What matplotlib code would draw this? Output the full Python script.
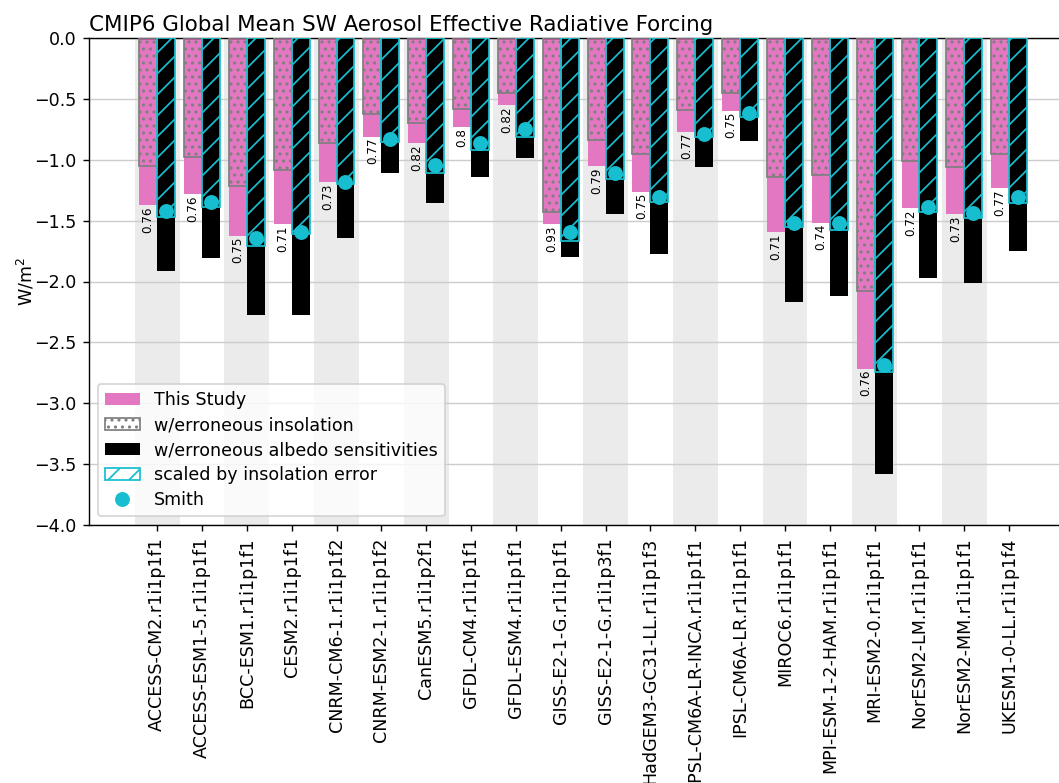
import matplotlib
matplotlib.use("Agg")
import matplotlib.pyplot as plt
import matplotlib.patches as mpatches
from matplotlib.lines import Line2D
import numpy as np

models = ["ACCESS-CM2.r1i1p1f1", "ACCESS-ESM1-5.r1i1p1f1", "BCC-ESM1.r1i1p1f1",
          "CESM2.r1i1p1f1", "CNRM-CM6-1.r1i1p1f2", "CNRM-ESM2-1.r1i1p1f2",
          "CanESM5.r1i1p2f1", "GFDL-CM4.r1i1p1f1", "GFDL-ESM4.r1i1p1f1",
          "GISS-E2-1-G.r1i1p1f1", "GISS-E2-1-G.r1i1p3f1", "HadGEM3-GC31-LL.r1i1p1f3",
          "IPSL-CM6A-LR-INCA.r1i1p1f1", "IPSL-CM6A-LR.r1i1p1f1", "MIROC6.r1i1p1f1",
          "MPI-ESM-1-2-HAM.r1i1p1f1", "MRI-ESM2-0.r1i1p1f1", "NorESM2-LM.r1i1p1f1",
          "NorESM2-MM.r1i1p1f1", "UKESM1-0-LL.r1i1p1f4"]

this_study = [-1.372, -1.281, -1.624, -1.528, -1.186, -0.810, -0.860, -0.728, -0.550, -1.531,
              -1.051, -1.262, -0.769, -0.597, -1.596, -1.517, -2.715, -1.399, -1.446, -1.235]
err_insolation = [-1.051, -0.980, -1.216, -1.087, -0.865, -0.624, -0.701, -0.586, -0.454, -1.426,
                  -0.838, -0.956, -0.591, -0.454, -1.139, -1.125, -2.081, -1.008, -1.062, -0.953]
err_albedo = [-1.911, -1.810, -2.275, -2.275, -1.646, -1.106, -1.358, -1.139, -0.988, -1.796,
              -1.449, -1.777, -1.057, -0.846, -2.171, -2.119, -3.581, -1.974, -2.015, -1.750]
scaled_insol = [-1.467, -1.385, -1.706, -1.610, -1.199, -0.857, -1.112, -0.920, -0.816, -1.667,
                -1.158, -1.344, -0.816, -0.646, -1.550, -1.577, -2.746, -1.426, -1.481, -1.353]
smith = [-1.421, -1.344, -1.640, -1.596, -1.180, -0.832, -1.043, -0.865, -0.747, -1.591,
         -1.112, -1.303, -0.789, -0.619, -1.522, -1.522, -2.686, -1.385, -1.435, -1.309]
ratios = ["0.76", "0.76", "0.75", "0.71", "0.73", "0.77", "0.82", "0.8", "0.82", "0.93",
          "0.79", "0.75", "0.77", "0.75", "0.71", "0.74", "0.76", "0.72", "0.73", "0.77"]

pink = "#e377c2"
cyan = "#17becf"

DPI = 126
W, H = 1059, 783
fig = plt.figure(figsize=(W / DPI, H / DPI), dpi=DPI)
left = 89 / W
bottom = (H - 525) / H
top = (H - 38) / H
xmin, xmax = -1.52, 20.2
unit = (1009 - 157) / 19
width_px = (xmax - xmin) * unit
ax = fig.add_axes([left, bottom, width_px / W, top - bottom])

x = np.arange(len(models))
w = 0.4
for i in x:
    if i % 2 == 0:
        ax.axvspan(i - 0.5, i + 0.5, color="#ebebeb", zorder=0, lw=0)

ax.yaxis.grid(True, color="#cccccc", lw=0.8, zorder=0.5)
ax.set_axisbelow(True)

ax.bar(x - w / 2, this_study, w, color=pink, zorder=2)
ax.bar(x - w / 2, err_insolation, w, fill=False, edgecolor="gray", hatch="...", lw=1.0, zorder=3)
ax.bar(x + w / 2, err_albedo, w, color="black", zorder=2)
ax.bar(x + w / 2, scaled_insol, w, fill=False, edgecolor=cyan, hatch="//", lw=1.0, zorder=3)
ax.plot(x + w / 2, smith, "o", color=cyan, ms=7.5, zorder=4, ls="none")

for i in x:
    ax.text(i - w / 2, this_study[i] - 0.01, ratios[i], rotation=90, ha="center", va="top",
            fontsize=6.9, zorder=5)

ax.set_xlim(xmin, xmax)
ax.set_ylim(-4.0, 0.0)
ax.set_yticks(np.arange(-4.0, 0.01, 0.5))
ax.set_xticks(x)
ax.set_xticklabels(models, rotation=90, fontsize=10)
ax.tick_params(axis="y", labelsize=10)
ax.set_ylabel("W/m$^2$", fontsize=10, labelpad=-1)
ax.set_title("CMIP6 Global Mean SW Aerosol Effective Radiative Forcing", loc="left",
             fontsize=12.2, pad=4)

handles = [
    mpatches.Patch(facecolor=pink, label="This Study"),
    mpatches.Patch(facecolor="white", edgecolor="gray", hatch="...", lw=1.0, label="w/erroneous insolation"),
    mpatches.Patch(facecolor="black", label="w/erroneous albedo sensitivities"),
    mpatches.Patch(facecolor="white", edgecolor=cyan, hatch="//", lw=1.0, label="scaled by insolation error"),
    Line2D([], [], marker="o", color=cyan, ls="none", ms=7.5, label="Smith"),
]
ax.legend(handles=handles, loc="lower left", fontsize=10, labelspacing=0.4)

fig.savefig("out.png", dpi=DPI)
